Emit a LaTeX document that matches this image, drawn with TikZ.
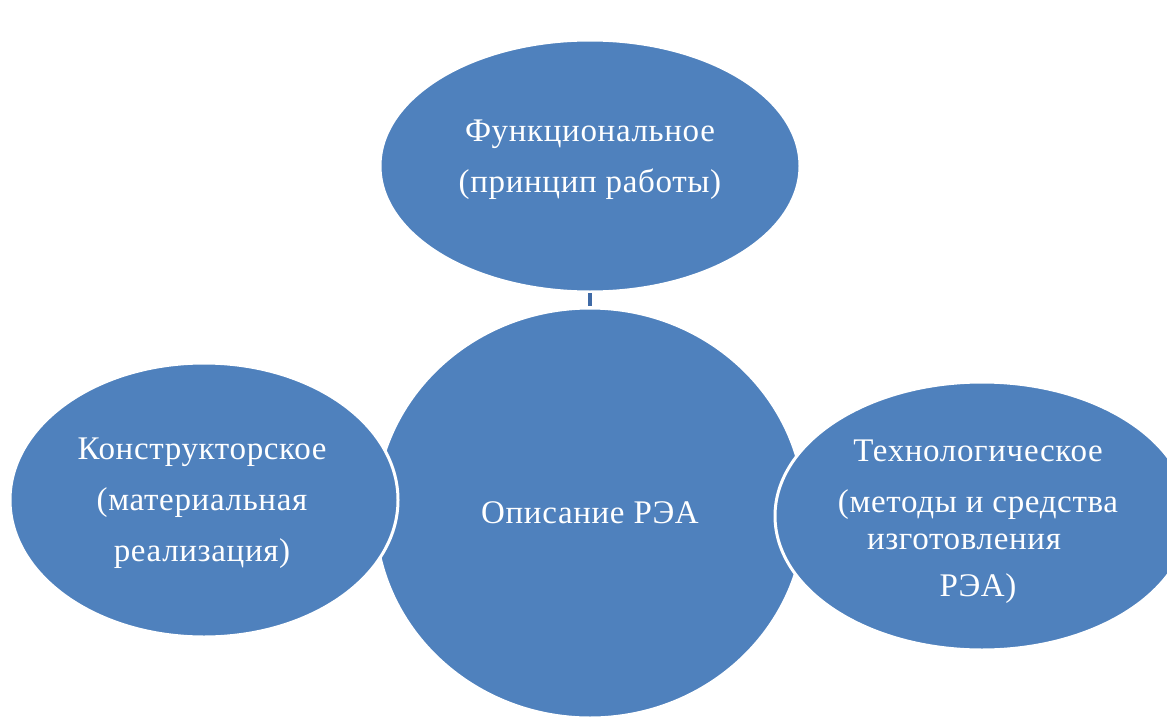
\documentclass[tikz,border=0pt]{standalone}
\usepackage{fontspec}
\setmainfont{Liberation Serif}[LetterSpace=2]
\usetikzlibrary{shapes.geometric}
\definecolor{bubble}{HTML}{4F81BD}
\definecolor{tick}{HTML}{3F6AA6}
\begin{document}
\begin{tikzpicture}[x=1pt,y=-1pt,
    bub/.style={ellipse,fill=bubble,draw=white,line width=3pt,inner sep=0pt,
      text=white,align=center,font=\fontsize{33}{51}\selectfont},
    lbl/.style={text=white,align=center,font=\fontsize{33}{51}\selectfont}]
            \useasboundingbox (0,0) rectangle (1167,717);
            \node[bub,minimum width=420pt,minimum height=252pt] (func) at (590,166) {};
            \node[bub,minimum width=430pt,minimum height=410pt] (desc) at (590,513)
              {Описание РЭА};
            \node[bub,minimum width=388pt,minimum height=274pt] (constr) at (204,500) {};
            \node[bub,minimum width=414pt,minimum height=268pt] (tech) at (982,516) {};
            % texts
            \node[lbl] (functxt) at (590,160)
              {Функциональное\\(принцип работы)};
            \node[lbl] (constrtxt) at (202,503)
              {Конструкторское\\(материальная\\реализация)};
            \node[lbl] (techtxt) at (978,522)
              {Технологическое\\(методы и средства\\[-14pt]\hspace*{-28pt}изготовления\\[-4pt] РЭА)};
            % small mark between the top two
            \coordinate (marktop) at (590,293);
            \coordinate (markbot) at (590,306);
            \draw[tick,line width=4pt] (marktop) -- (markbot);
\end{tikzpicture}
\end{document}
